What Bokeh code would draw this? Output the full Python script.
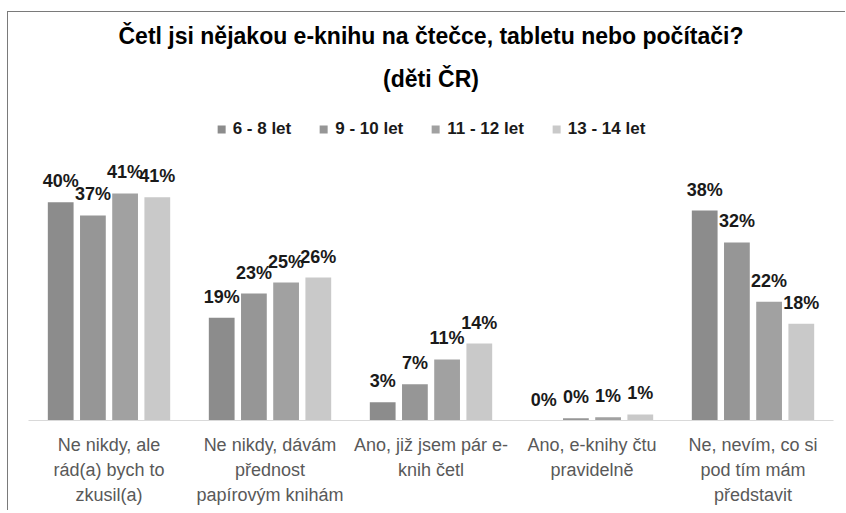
from bokeh.plotting import figure
from bokeh.models import FactorRange, Range1d, ColumnDataSource, Legend, LegendItem, LabelSet, Title
from bokeh.core.properties import value
from bokeh.transform import dodge
from bokeh.embed import file_html
from bokeh.resources import INLINE

categories = [
    "Ne nikdy, ale\nrád(a) bych to\nzkusil(a)",
    "Ne nikdy, dávám\npřednost\npapírovým knihám",
    "Ano, již jsem pár e-\nknih četl",
    "Ano, e-knihy čtu\npravidelně",
    "Ne, nevím, co si\npod tím mám\npředstavit",
]
series_names = ["6 - 8 let", "9 - 10 let", "11 - 12 let", "13 - 14 let"]
age_6_8 = [39.7, 18.7, 3.3, 0.0, 38.2]
age_9_10 = [37.3, 23.1, 6.6, 0.4, 32.4]
age_11_12 = [41.3, 25.1, 11.1, 0.6, 21.6]
age_13_14 = [40.6, 26.0, 14.0, 1.1, 17.6]
title_text = "Četl jsi nějakou e-knihu na čtečce, tabletu nebo počítači?"
subtitle_text = "(děti ČR)"

series = [age_6_8, age_9_10, age_11_12, age_13_14]
colors = ["#8c8c8c", "#969696", "#a1a1a1", "#c9c9c9"]
offsets = [-0.3, -0.1, 0.1, 0.3]

data = {"cat": categories}
for i, s in enumerate(series):
    data[f"s{i}"] = s
    data[f"l{i}"] = [f"{round(v)}%" for v in s]
src = ColumnDataSource(data)

p = figure(
    width=838, height=499,
    x_range=FactorRange(*categories, range_padding=0),
    y_range=Range1d(0, 57.3),
    output_backend="svg", toolbar_location=None,
    min_border_left=20, min_border_right=13,
    min_border_top=93, min_border_bottom=91,
)
p.styles = {"margin-left": "7px", "margin-top": "11px",
            "border-left": "1px solid #7a7a7a", "border-top": "1px solid #7a7a7a"}
p.title.text = ""
p.title.visible = False
p.outline_line_color = None
p.xgrid.visible = False
p.ygrid.visible = False
p.yaxis.visible = False

items = []
for i, s in enumerate(series):
    r = p.vbar(x=dodge("cat", offsets[i], range=p.x_range), top=f"s{i}", width=0.16,
               source=src, fill_color=colors[i], line_color=None)
    items.append(LegendItem(label=series_names[i], renderers=[r]))
    labels = LabelSet(x=dodge("cat", offsets[i], range=p.x_range), y=f"s{i}", text=f"l{i}",
                      source=src, text_align="center", text_baseline="alphabetic",
                      y_offset=15, text_font=value("Liberation Sans"), text_font_size="18px",
                      text_font_style="bold", text_color="#1a1a1a")
    p.add_layout(labels)

legend = Legend(items=items, orientation="horizontal", location="top_center",
                glyph_width=10, glyph_height=10, label_standoff=7, spacing=27,
                label_text_font="Liberation Sans", label_text_font_size="17px",
                label_text_font_style="bold", label_text_color="#1a1a1a",
                border_line_color=None, background_fill_alpha=0,
                padding=4, margin=14)
p.add_layout(legend)

for txt, so in ((subtitle_text, 27), (title_text, 3)):
    p.add_layout(Title(text=txt, align="center", text_font="Liberation Sans",
                       text_font_size="23px", text_font_style="bold",
                       text_color="#000000", standoff=so), "above")

ax = p.xaxis[0]
ax.axis_line_color = "#d9d9d9"
ax.axis_line_width = 1
ax.major_tick_line_color = None
ax.minor_tick_line_color = None
ax.major_label_standoff = 8
ax.major_label_text_font = "Liberation Sans"
ax.major_label_text_font_size = "18px"
ax.major_label_text_color = "#595959"
ax.major_label_text_line_height = 1.25

open("out.html", "w").write(file_html(p, INLINE))
